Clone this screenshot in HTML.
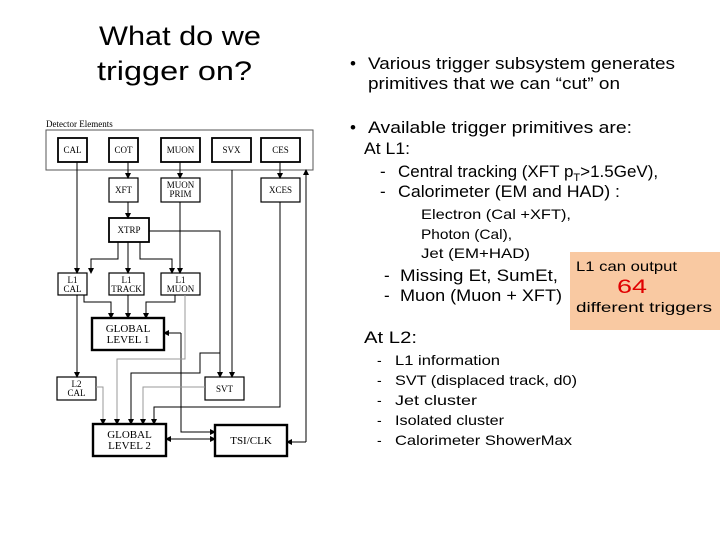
<!DOCTYPE html>
<html><head><meta charset="utf-8"><style>
html,body{margin:0;padding:0;background:#fff;width:720px;height:540px;overflow:hidden}
svg{display:block}
.t{font-family:"Liberation Sans",sans-serif;fill:#000}
.d{font-family:"Liberation Serif",serif;font-size:9px;fill:#000}
</style></head><body>
<svg width="720" height="540" viewBox="0 0 720 540" xmlns="http://www.w3.org/2000/svg">
<defs><marker id="a" markerWidth="6" markerHeight="6" refX="5" refY="3" orient="auto" markerUnits="userSpaceOnUse"><path d="M0,0 L6,3 L0,6z" fill="#000"/></marker></defs>
<text class="t" x="99" y="45" font-size="27" textLength="162" lengthAdjust="spacingAndGlyphs">What do we</text>
<text class="t" x="97" y="80" font-size="27" textLength="155" lengthAdjust="spacingAndGlyphs">trigger on?</text>

<g class="t" font-size="17">
<text x="350" y="69">•</text><text x="368" y="69" textLength="307" lengthAdjust="spacingAndGlyphs">Various trigger subsystem generates</text>
<text x="368" y="89" textLength="252" lengthAdjust="spacingAndGlyphs">primitives that we can “cut” on</text>
<text x="350" y="133">•</text><text x="368" y="133" textLength="264" lengthAdjust="spacingAndGlyphs">Available trigger primitives are:</text>
<text x="364" y="154" textLength="46" lengthAdjust="spacingAndGlyphs">At L1:</text>
<text x="380" y="177">-</text><text x="398" y="177">Central tracking (XFT p<tspan font-size="11" dy="4">T</tspan><tspan dy="-4">&gt;1.5GeV),</tspan></text>
<text x="380" y="197">-</text><text x="398" y="197" textLength="222" lengthAdjust="spacingAndGlyphs">Calorimeter (EM and HAD) :</text>
<text x="384" y="281">-</text><text x="400" y="281" textLength="158" lengthAdjust="spacingAndGlyphs">Missing Et, SumEt,</text>
<text x="384" y="301">-</text><text x="400" y="301" textLength="162" lengthAdjust="spacingAndGlyphs">Muon (Muon + XFT)</text>
<text x="364" y="343" textLength="53" lengthAdjust="spacingAndGlyphs">At L2:</text>
</g>
<g class="t" font-size="14">
<text x="421" y="219" textLength="150" lengthAdjust="spacingAndGlyphs">Electron (Cal +XFT),</text>
<text x="421" y="239" textLength="91" lengthAdjust="spacingAndGlyphs">Photon (Cal),</text>
<text x="421" y="258" textLength="109" lengthAdjust="spacingAndGlyphs">Jet (EM+HAD)</text>
<text x="377" y="365">-</text><text x="395" y="365" textLength="105" lengthAdjust="spacingAndGlyphs">L1 information</text>
<text x="377" y="385">-</text><text x="395" y="385" textLength="182" lengthAdjust="spacingAndGlyphs">SVT (displaced track, d0)</text>
<text x="377" y="405">-</text><text x="395" y="405" textLength="82" lengthAdjust="spacingAndGlyphs">Jet cluster</text>
<text x="377" y="425">-</text><text x="395" y="425" textLength="109" lengthAdjust="spacingAndGlyphs">Isolated cluster</text>
<text x="377" y="445">-</text><text x="395" y="445" textLength="177" lengthAdjust="spacingAndGlyphs">Calorimeter ShowerMax</text>
</g>
<rect x="570" y="252" width="150" height="78" fill="#f9c9a2"/>
<text class="t" x="576" y="271" font-size="14" textLength="101" lengthAdjust="spacingAndGlyphs">L1  can output</text>
<text class="t" x="617" y="293" font-size="19" style="fill:#e00000" textLength="30" lengthAdjust="spacingAndGlyphs">64</text>
<text class="t" x="576" y="312" font-size="14" textLength="136" lengthAdjust="spacingAndGlyphs">different triggers</text>

<!-- diagram -->
<text class="d" x="46" y="127">Detector Elements</text>
<rect x="46" y="130" width="267" height="40" fill="none" stroke="#555" stroke-width="1"/>
<g fill="#fff" stroke="#000" stroke-width="1.8">
<rect x="58" y="138" width="29" height="24"/><rect x="109" y="138" width="29" height="24"/>
<rect x="161" y="138" width="39" height="24"/><rect x="212" y="138" width="39" height="24"/>
<rect x="261" y="138" width="39" height="24"/>
<rect x="109" y="178" width="29" height="24" stroke-width="1.2"/><rect x="161" y="178" width="39" height="24" stroke-width="1.2"/>
<rect x="261" y="178" width="39" height="24" stroke-width="1.2"/>
<rect x="109" y="218" width="40" height="24"/>
<rect x="58" y="273" width="29" height="22" stroke-width="1.2"/><rect x="109" y="273" width="35" height="22" stroke-width="1.2"/>
<rect x="161" y="273" width="39" height="22" stroke-width="1.2"/>
<rect x="92" y="318" width="72" height="32" stroke-width="2.4"/>
<rect x="57" y="377" width="39" height="23" stroke-width="1.2"/><rect x="205" y="377" width="39" height="23" stroke-width="1.2"/>
<rect x="93" y="424" width="73" height="32" stroke-width="2.4"/><rect x="215" y="425" width="72" height="31" stroke-width="2.4"/>
</g>
<g class="d" text-anchor="middle">
<text x="72.5" y="153">CAL</text><text x="123.5" y="153">COT</text><text x="180.5" y="153">MUON</text>
<text x="231.5" y="153">SVX</text><text x="280.5" y="153">CES</text>
<text x="123.5" y="193">XFT</text><text x="180.5" y="188">MUON</text><text x="180.5" y="197">PRIM</text>
<text x="280.5" y="193">XCES</text><text x="129" y="233">XTRP</text>
<text x="72.5" y="283">L1</text><text x="72.5" y="292">CAL</text>
<text x="126.5" y="283">L1</text><text x="126.5" y="292">TRACK</text>
<text x="180.5" y="283">L1</text><text x="180.5" y="292">MUON</text>
<text x="128" y="332" font-size="11">GLOBAL</text><text x="128" y="343" font-size="11">LEVEL 1</text>
<text x="76.5" y="387">L2</text><text x="76.5" y="396">CAL</text>
<text x="224.5" y="392">SVT</text>
<text x="129.5" y="438" font-size="11">GLOBAL</text><text x="129.5" y="449" font-size="11">LEVEL 2</text>
<text x="251" y="444" font-size="11">TSI/CLK</text>
</g>
<g fill="none" stroke="#000" stroke-width="1" marker-end="url(#a)">
<path d="M77,162 V273"/><path d="M77,295 V377"/>
<path d="M128,162 V178"/><path d="M128,202 V218"/>
<path d="M180,162 V178"/><path d="M180,202 V273"/>
<path d="M280,162 V178"/>
<path d="M118,242 V259 H91 V273"/><path d="M128,242 V273"/><path d="M140,242 V259 H172 V273"/>
<path d="M149,231 H220 V377"/>
<path d="M220,353 H200 V373 H131 V424"/>
<path d="M232,170 V377"/>
<path d="M280,202 V407 H154 V424"/>
<path d="M306,442 V170"/><path d="M306,442 H287"/>
<path d="M84,295 V302 H111 V318"/><path d="M128,295 V318"/><path d="M175,295 V302 H146 V318"/>
<path d="M181,333 H164"/><path d="M181,333 V432 H215"/>
<path d="M190,439 H166"/><path d="M190,439 H215"/>
</g>
<g fill="none" stroke="#999" stroke-width="1" marker-end="url(#a)">
<path d="M185,295 V359 H117 V424"/>
<path d="M96,387 H103 V424"/>
<path d="M205,387 H143 V424"/>
</g>
</svg>
</body></html>
